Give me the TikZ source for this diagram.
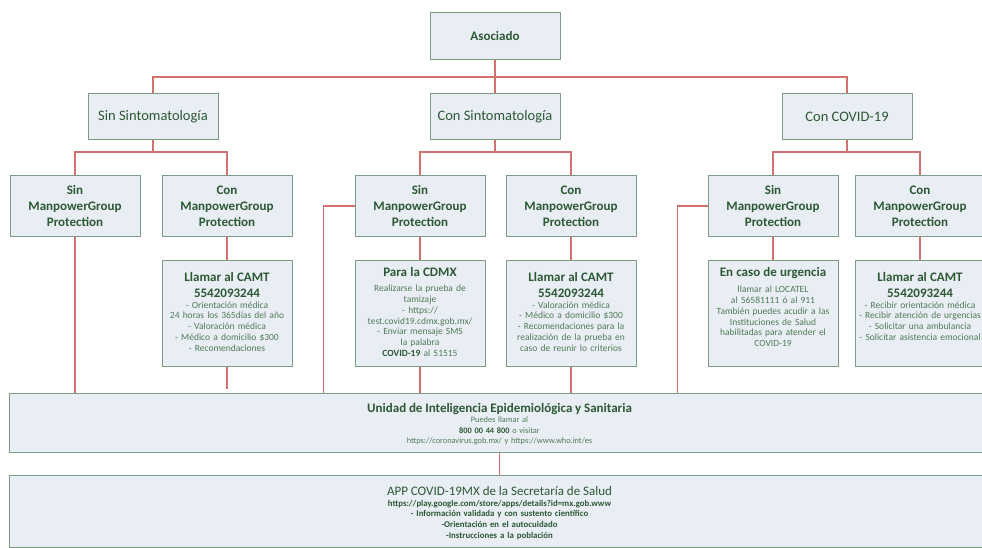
\documentclass[tikz,border=0pt]{standalone}
\usepackage{fontspec}
\setmainfont{Carlito}
\usetikzlibrary{positioning,calc}
\definecolor{boxfill}{HTML}{E9EEF4}
\definecolor{boxline}{HTML}{7C9C86}
\definecolor{linkred}{HTML}{D2716E}
\definecolor{titlegreen}{HTML}{2C5834}
\definecolor{textgreen}{HTML}{4F7A57}
\newcommand{\mytitle}[1]{{\color{titlegreen}\fontsize{13}{15.5}\selectfont\bfseries #1\par}}
\tikzset{
  mybox/.style = {rectangle, draw=boxline, fill=boxfill, line width=1pt, minimum width=130pt, minimum height=60pt, align=center, text=titlegreen, inner sep=2pt},
  myhead/.style = {mybox, minimum height=46pt, font=\fontsize{14.5}{16}\selectfont},
  mygroup/.style = {mybox, font=\fontsize{13}{16}\selectfont\bfseries},
  mydetail/.style = {mybox, minimum height=106pt},
  mytext/.style = {anchor=north, align=center, text width=150pt, text=textgreen, font=\fontsize{9.5}{10.8}\selectfont, inner sep=0pt},
  mywide/.style = {mybox, minimum width=981pt},
  mylink/.style = {draw=linkred, line width=1.1pt},
}
\begin{document}
\begin{tikzpicture}[x=1pt, y=-1pt]
\useasboundingbox[fill=white] (0,0) rectangle (982,548);
% top levels
\node[myhead, font=\fontsize{13}{15}\selectfont\bfseries, minimum height=47pt] (asoc) at (495,36) {Asociado};
\node[myhead] (sinsint) at (153,117) {Sin Sintomatología};
\node[myhead] (consint) at (495,117) {Con Sintomatología};
\node[myhead] (covid) at (847,117) {Con COVID-19};
% protection boxes
\node[mygroup] (s1) at (75,206) {Sin\\ManpowerGroup\\Protection};
\node[mygroup] (c1) at (227,206) {Con\\ManpowerGroup\\Protection};
\node[mygroup] (s2) at (420,206) {Sin\\ManpowerGroup\\Protection};
\node[mygroup] (c2) at (571,206) {Con\\ManpowerGroup\\Protection};
\node[mygroup] (s3) at (773,206) {Sin\\ManpowerGroup\\Protection};
\node[mygroup] (c3) at (920,206) {Con\\ManpowerGroup\\Protection};
% detail boxes
\node[mydetail] (llam1) at (227,313) {};
\node[mydetail] (cdmx) at (420,313) {};
\node[mydetail] (llam2) at (571,313) {};
\node[mydetail] (urg) at (773,313) {};
\node[mydetail] (llam3) at (920,313) {};
\node[mytext, below=13pt of llam1.north] (llam1t) {\mytitle{Llamar al CAMT\\5542093244}
  - Orientación médica\\24 horas los 365días del año\\- Valoración médica\\- Médico a domicilio \$300\\- Recomendaciones};
\node[mytext, below=8pt of cdmx.north] (cdmxt) {\mytitle{Para la CDMX}\vspace{4pt}
  Realizarse la prueba de\\tamizaje\\- https://\\test.covid19.cdmx.gob.mx/\\- Enviar mensaje SMS\\la palabra\\{\color{titlegreen}\bfseries COVID-19} al 51515};
\node[mytext, below=13pt of llam2.north] (llam2t) {\mytitle{Llamar al CAMT\\5542093244}
  - Valoración médica\\- Médico a domicilio \$300\\- Recomendaciones para la\\realización de la prueba en\\caso de reunir lo criterios};
\node[mytext, below=8pt of urg.north] (urgt) {\mytitle{En caso de urgencia}\vspace{5pt}
  llamar al LOCATEL\\al 56581111 ó al 911\\También puedes acudir a las\\Instituciones de Salud\\habilitadas para atender el\\COVID-19};
\node[mytext, below=13pt of llam3.north] (llam3t) {\mytitle{Llamar al CAMT\\5542093244}
  - Recibir orientación médica\\- Recibir atención de urgencias\\- Solicitar una ambulancia\\- Solicitar asistencia emocional};
% bottom boxes
\node[mywide, minimum height=59pt] (unidad) at (499.5,422.5) {};
\node[mytext, anchor=center, text width=600pt, font=\fontsize{8.3}{10.5}\selectfont] (unidadt) at (499.5,424) {{\color{titlegreen}\fontsize{13}{13}\selectfont\bfseries Unidad de Inteligencia Epidemiológica y Sanitaria\par}
  Puedes llamar al\\{\color{titlegreen}\bfseries 800 00 44 800} o visitar\\https://coronavirus.gob.mx/ y https://www.who.int/es};
\node[mywide, minimum height=72pt] (app) at (499.5,511) {};
\node[mytext, anchor=center, text width=600pt, text=titlegreen, font=\fontsize{8.8}{10.8}\selectfont\bfseries] (appt) at (499.5,513) {{\fontsize{13}{14}\selectfont\mdseries APP COVID-19MX de la Secretaría de Salud\par}
  https://play.google.com/store/apps/details?id=mx.gob.www\\- Información validada y con sustento científico\\-Orientación en el autocuidado\\-Instrucciones a la población};
% connectors
\coordinate (b0) at (495,77);
\coordinate (b1) at (153,152);
\coordinate (b2) at (495,152);
\coordinate (b3) at (847,152);
\draw[mylink] (asoc) -- (consint);
\draw[mylink] (sinsint) |- (b0) -| (covid);
\draw[mylink] (sinsint) -- (b1);
\draw[mylink] (s1) |- (b1) -| (c1);
\draw[mylink] (consint) -- (b2);
\draw[mylink] (s2) |- (b2) -| (c2);
\draw[mylink] (covid) -- (b3);
\draw[mylink] (s3) |- (b3) -| (c3);
\draw[mylink] (c1) -- (llam1);
\draw[mylink] (s2) -- (cdmx);
\draw[mylink] (c2) -- (llam2);
\draw[mylink] (s3) -- (urg);
\draw[mylink] (c3) -- (llam3);
\draw[mylink] (s1) -- (s1 |- unidad.north);
\draw[mylink] (llam1) -- ($(llam1 |- unidad.north)+(0,-4)$);
\draw[mylink] (s2.west) -- ++(-31,0) coordinate (k2) -- (k2 |- unidad.north);
\draw[mylink] (cdmx) -- (cdmx |- unidad.north);
\draw[mylink] (llam2) -- (llam2 |- unidad.north);
\draw[mylink] (s3.west) -- ++(-30,0) coordinate (k3) -- (k3 |- unidad.north);
\draw[mylink] (unidad) -- (app);
\end{tikzpicture}
\end{document}
